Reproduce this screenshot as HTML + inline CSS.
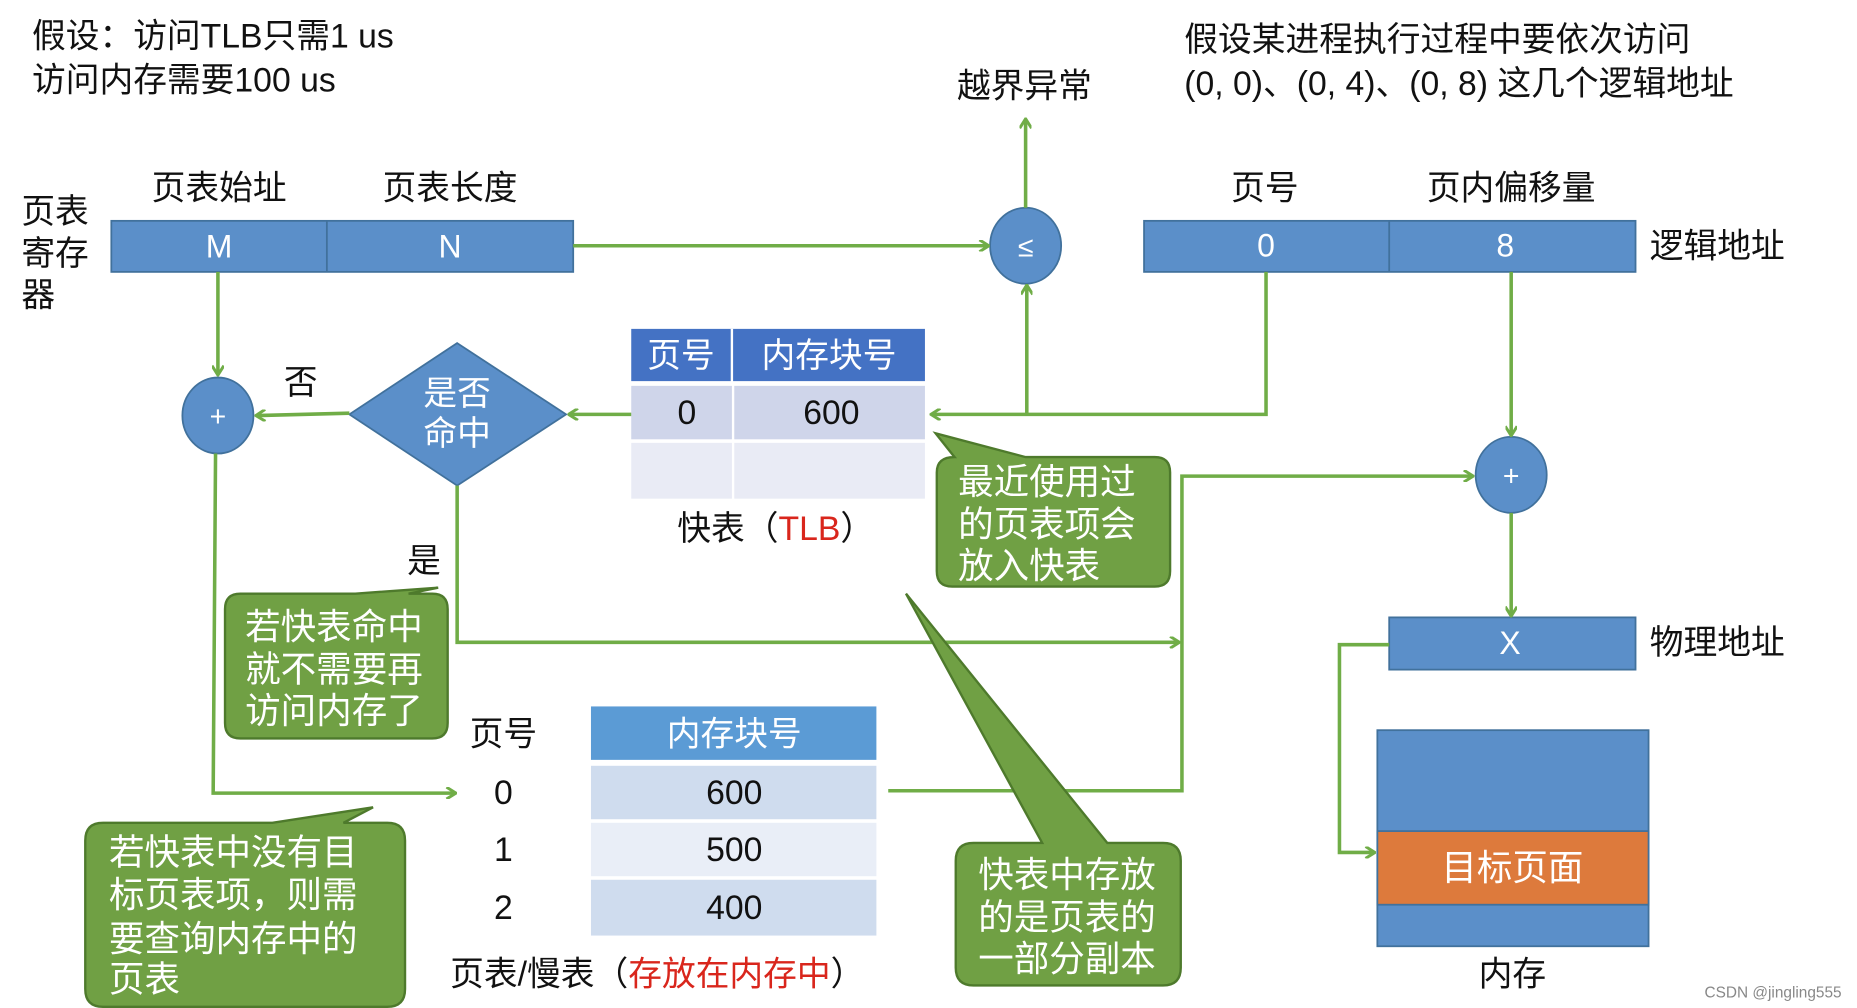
<!DOCTYPE html>
<html><head><meta charset="utf-8"><style>
html,body{margin:0;padding:0;background:#fff;overflow:hidden}
svg{display:block}
text{font-family:"Liberation Sans","Noto Sans CJK SC",sans-serif;fill:#111}
</style></head><body>
<svg width="1857" height="1008" viewBox="0 0 1568 849" preserveAspectRatio="none" xmlns="http://www.w3.org/2000/svg">
<defs>
<marker id="a" markerWidth="10" markerHeight="10" refX="8" refY="5" orient="auto" markerUnits="userSpaceOnUse"><path d="M1,0 L9,5 L1,10" fill="none" stroke="#70ad47" stroke-width="2.5"/></marker>
</defs>
<rect width="1568" height="849" fill="#fff"/>
<g font-size="28.5">
<text x="27" y="40">假设：访问TLB只需1 us</text>
<text x="27" y="77">访问内存需要100 us</text>
<text x="1000" y="43">假设某进程执行过程中要依次访问</text>
<text x="1000" y="80">(0, 0)、(0, 4)、(0, 8) 这几个逻辑地址</text>
<text x="865" y="82" text-anchor="middle">越界异常</text>
<text x="185" y="168" text-anchor="middle">页表始址</text>
<text x="380" y="168" text-anchor="middle">页表长度</text>
<text x="18" y="188">页表</text>
<text x="18" y="223">寄存</text>
<text x="18" y="258">器</text>
<text x="1068" y="168" text-anchor="middle">页号</text>
<text x="1276" y="168" text-anchor="middle">页内偏移量</text>
<text x="1393" y="217">逻辑地址</text>
<text x="1393" y="551">物理地址</text>
<text x="254" y="332" text-anchor="middle">否</text>
<text x="358" y="482" text-anchor="middle">是</text>
<text x="425" y="628" text-anchor="middle">页号</text>
<text x="425" y="677" text-anchor="middle">0</text>
<text x="425" y="725" text-anchor="middle">1</text>
<text x="425" y="774" text-anchor="middle">2</text>
<text x="655" y="455" text-anchor="middle">快表（<tspan fill="#d9261c">TLB</tspan>）</text>
<text x="555" y="830" text-anchor="middle">页表/慢表（<tspan fill="#d9261c">存放在内存中</tspan>）</text>
<text x="1277" y="830" text-anchor="middle">内存</text>
</g>
<g stroke="#41719c" stroke-width="1.5">
<rect x="94" y="186" width="390" height="43" fill="#5b8fc9"/>
<line x1="276" y1="186" x2="276" y2="229"/>
<rect x="966" y="186" width="415" height="43" fill="#5b8fc9"/>
<line x1="1173" y1="186" x2="1173" y2="229"/>
<rect x="1173" y="520" width="208" height="44" fill="#5b8fc9"/>
<rect x="1163" y="615" width="229" height="182" fill="#5b8fc9"/>
<rect x="1163" y="700" width="229" height="62" fill="#dd7a3c"/>
</g>
<g fill="#fff" font-size="27" text-anchor="middle">
<text x="185" y="217" style="fill:#fff">M</text>
<text x="380" y="217" style="fill:#fff">N</text>
<text x="1069" y="216" style="fill:#fff">0</text>
<text x="1271" y="216" style="fill:#fff">8</text>
<text x="1275" y="551" style="fill:#fff">X</text>
<text x="1277" y="741" style="fill:#fff" font-size="30">目标页面</text>
</g>
<rect x="533" y="277" width="248" height="44" fill="#4472c4"/>
<line x1="618" y1="277" x2="618" y2="420" stroke="#fff" stroke-width="2"/>
<rect x="533" y="325" width="85" height="45" fill="#cfd5ea"/><rect x="620" y="325" width="161" height="45" fill="#cfd5ea"/>
<rect x="533" y="373" width="85" height="47" fill="#e9ebf5"/><rect x="620" y="373" width="161" height="47" fill="#e9ebf5"/>
<g font-size="28.5" text-anchor="middle">
<text x="575" y="309" style="fill:#fff">页号</text>
<text x="700" y="309" style="fill:#fff">内存块号</text>
<text x="580" y="357">0</text>
<text x="702" y="357">600</text>
</g>
<rect x="499" y="595" width="241" height="45" fill="#5b9bd5"/>
<rect x="499" y="645" width="241" height="45" fill="#cfdcee"/>
<rect x="499" y="693" width="241" height="45" fill="#e9eef7"/>
<rect x="499" y="741" width="241" height="47" fill="#cfdcee"/>
<g font-size="28.5" text-anchor="middle">
<text x="620" y="628" style="fill:#fff">内存块号</text>
<text x="620" y="677">600</text>
<text x="620" y="725">500</text>
<text x="620" y="774">400</text>
</g>
<g fill="#5b8fc9" stroke="#41719c" stroke-width="1.5">
<ellipse cx="866" cy="207" rx="30" ry="32"/>
<ellipse cx="184" cy="350" rx="30" ry="32"/>
<ellipse cx="1276" cy="400" rx="30" ry="32"/>
<polygon points="386,289 478,349 386,409 295,349"/>
</g>
<g font-size="24" text-anchor="middle">
<text x="866" y="216" style="fill:#fff">≤</text>
<text x="184" y="359" style="fill:#fff">+</text>
<text x="1276" y="409" style="fill:#fff">+</text>
<text x="386" y="341" font-size="28.5" style="fill:#fff">是否</text>
<text x="386" y="375" font-size="28.5" style="fill:#fff">命中</text>
</g>
<g stroke="#70ad47" stroke-width="3" fill="none">
<line x1="484" y1="207" x2="834" y2="207" marker-end="url(#a)"/>
<line x1="866" y1="175" x2="866" y2="101" marker-end="url(#a)"/>
<polyline points="1069,229 1069,349 787,349" marker-end="url(#a)"/>
<line x1="867" y1="349" x2="867" y2="241" marker-end="url(#a)"/>
<line x1="533" y1="349" x2="481" y2="349" marker-end="url(#a)"/>
<line x1="295" y1="348" x2="217" y2="350" marker-end="url(#a)"/>
<line x1="184" y1="229" x2="184" y2="315" marker-end="url(#a)"/>
<polyline points="182,382 180,668 384,668" marker-end="url(#a)"/>
<polyline points="386,409 386,541 995,541" marker-end="url(#a)"/>
<polyline points="750,666 998,666 998,401 1243,401" marker-end="url(#a)"/>
<line x1="1276" y1="229" x2="1276" y2="366" marker-end="url(#a)"/>
<line x1="1276" y1="432" x2="1276" y2="518" marker-end="url(#a)"/>
<polyline points="1173,543 1131,543 1131,718 1160,718" marker-end="url(#a)"/>
</g>
<g fill="#70a044" stroke="#4e7a2c" stroke-width="2">
<path d="M806,385 L790,365 L866,385 L975,385 Q988,385 988,398 L988,481 Q988,494 975,494 L804,494 Q791,494 791,481 L791,398 Q791,385 806,385 Z"/>
<path d="M203,500 L300,500 L370,495 L345,500 L365,500 Q378,500 378,513 L378,609 Q378,622 365,622 L203,622 Q190,622 190,609 L190,513 Q190,500 203,500 Z"/>
<path d="M87,693 L230,693 L315,680 L290,693 L327,693 Q342,693 342,708 L342,833 Q342,848 327,848 L87,848 Q72,848 72,833 L72,708 Q72,693 87,693 Z"/>
<path d="M822,710 L880,710 L765,500 L935,710 L982,710 Q997,710 997,725 L997,815 Q997,830 982,830 L822,830 Q807,830 807,815 L807,725 Q807,710 822,710 Z"/>
</g>
<g font-size="30">
<text x="809" y="416" style="fill:#fff">最近使用过</text>
<text x="809" y="452" style="fill:#fff">的页表项会</text>
<text x="809" y="487" style="fill:#fff">放入快表</text>
<text x="207" y="538" style="fill:#fff">若快表命中</text>
<text x="207" y="574" style="fill:#fff">就不需要再</text>
<text x="207" y="609" style="fill:#fff">访问内存了</text>
<text x="92" y="728" style="fill:#fff">若快表中没有目</text>
<text x="92" y="764" style="fill:#fff">标页表项，则需</text>
<text x="92" y="801" style="fill:#fff">要查询内存中的</text>
<text x="92" y="835" style="fill:#fff">页表</text>
<text x="826" y="747" style="fill:#fff">快表中存放</text>
<text x="826" y="783" style="fill:#fff">的是页表的</text>
<text x="826" y="818" style="fill:#fff">一部分副本</text>
</g>
<text x="1555" y="840" font-size="13" text-anchor="end" style="fill:#888">CSDN @jingling555</text>
</svg>
</body></html>
